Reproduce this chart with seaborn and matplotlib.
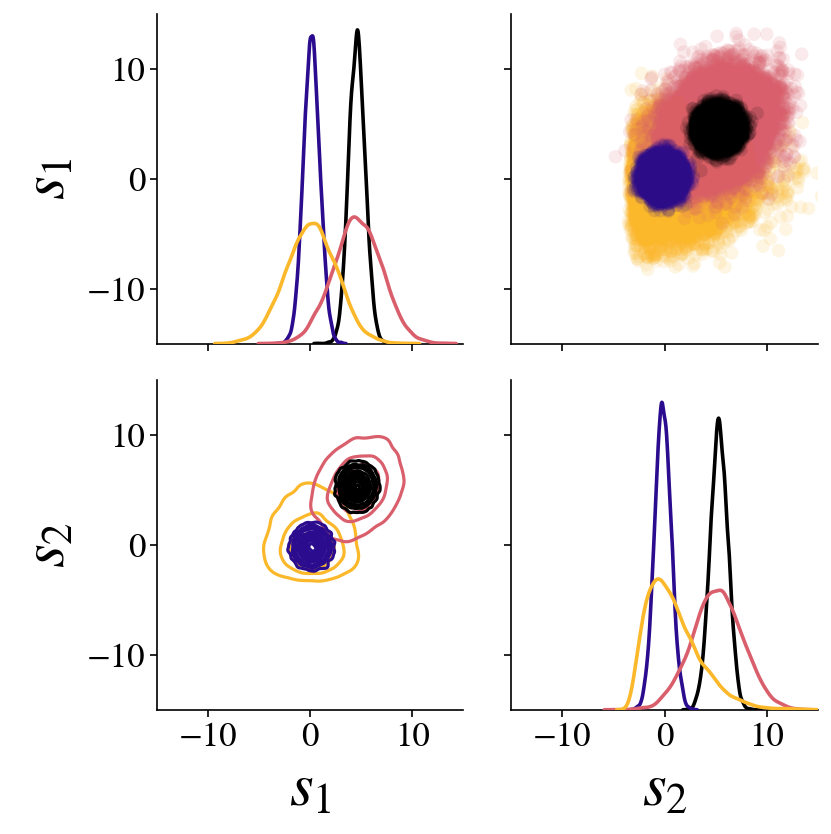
import numpy as np
import pandas as pd
import seaborn as sns
import matplotlib.pyplot as plt

# groups (drawn in this order)
groups = ["yellow", "red", "purple", "black"]
colors = ["#fbb82a", "#d95f6c", "#2c0c8e", "#000000"]
n_points = [14600, 14600, 12000, 12000]

# centres (s1, s2) and spreads (s1, s2) estimated from the diagonal KDEs
means_s1 = [0.1, 4.65, 0.13, 4.6]
means_s2 = [-0.6, 5.2, -0.16, 5.35]
sd_s1 = [2.48, 2.36, 0.81, 0.8]
sd_s2 = [2.5, 2.47, 0.8, 0.86]
corr = [0.0, 0.25, 0.0, 0.0]
skew_s2 = [True, False, False, False]  # yellow s2 rises sharply on the left
gamma_scale = 1.54

# iso-proportion levels for the lower contours
contour_levels = [0.045, 0.12, 0.17, 0.25, 0.35, 0.45, 0.55, 0.65, 0.75, 0.85, 0.95]

rng = np.random.default_rng(11)


def draw_group(i):
    n = n_points[i]
    z1 = rng.standard_normal(n)
    z2 = corr[i] * z1 + np.sqrt(1 - corr[i] ** 2) * rng.standard_normal(n)
    s1 = means_s1[i] + sd_s1[i] * z1
    if skew_s2[i]:
        s2 = means_s2[i] - 2 * gamma_scale + rng.gamma(3.0, gamma_scale, n)
    else:
        s2 = means_s2[i] + sd_s2[i] * z2
    return pd.DataFrame({"s1": s1, "s2": s2, "group": groups[i]})


df = pd.concat([draw_group(i) for i in range(len(groups))], ignore_index=True)
palette = dict(zip(groups, colors))

sns.set_style("ticks")
plt.rcParams["font.family"] = ["STIXGeneral", "DejaVu Serif"]
plt.rcParams["mathtext.fontset"] = "stix"
plt.rcParams["xtick.labelsize"] = 25
plt.rcParams["ytick.labelsize"] = 25
plt.rcParams["axes.linewidth"] = 1.2
for key in ["text.color", "axes.labelcolor", "xtick.color", "ytick.color", "axes.edgecolor"]:
    plt.rcParams[key] = "black"

g = sns.PairGrid(df, vars=["s1", "s2"], hue="group", hue_order=groups,
                 palette=palette, height=4.1, despine=True)
g.map_upper(sns.scatterplot, s=95, alpha=0.13, linewidth=0)
g.map_lower(sns.kdeplot, levels=contour_levels, gridsize=120, linewidths=2.3)
g.map_diag(sns.kdeplot, linewidth=2.6)

for ax in g.axes.flat:
    ax.set_xlim(-15, 15)
    ax.set_ylim(-15, 15)
    ax.set_xticks([-10, 0, 10])
    ax.set_yticks([-10, 0, 10])
    ax.tick_params(length=5, width=1.2)

g.axes[1, 0].set_xlabel("$s_1$", fontsize=44, labelpad=8)
g.axes[1, 1].set_xlabel("$s_2$", fontsize=44, labelpad=8)
g.axes[0, 0].set_ylabel("$s_1$", fontsize=44, labelpad=6)
g.axes[1, 0].set_ylabel("$s_2$", fontsize=44, labelpad=6)

fig = g.figure
fig.set_size_inches(8.31, 8.34)
fig.subplots_adjust(left=0.189, right=0.984, top=0.983, bottom=0.149,
                    wspace=0.157, hspace=0.112)
fig.savefig("out.png", dpi=100)
